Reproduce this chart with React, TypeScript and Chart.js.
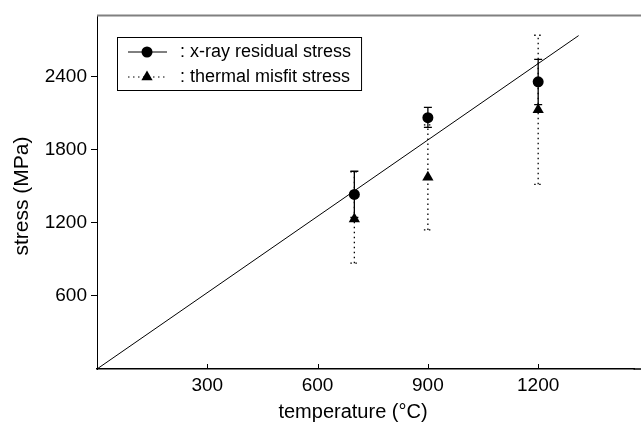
import React, { useEffect, useRef } from "react";
import { Chart, registerables } from "chart.js";
Chart.register(...registerables);

const temperatures = [700, 900, 1200];
const xrayStress = [1435, 2065, 2360];
const xrayLow = [1245, 1985, 2172];
const xrayHigh = [1625, 2150, 2545];
const misfitStress = [1233, 1576, 2131];
const misfitLow = [870, 1143, 1518];
const misfitHigh = [1620, 2006, 2743];
const fitX = [0, 1310];
const fitY = [0, 2740];
const xTickValues = [300, 600, 900, 1200];
const yTickValues = [600, 1200, 1800, 2400];
const xLabel = "temperature (\u00B0C)";
const yLabel = "stress (MPa)";
const legendLabels = [": x-ray residual stress", ": thermal misfit stress"];

const FONT = '"Liberation Sans", Arial, Helvetica, sans-serif';

const decor = {
  id: "decor",
  beforeDatasetsDraw(chart: any) {
    const { ctx, scales } = chart;
    const x = scales.x, y = scales.y;
    ctx.save();
    ctx.strokeStyle = "#000";
    const bar = (xv: number, lo: number, hi: number, dash: number[]) => {
      const px = x.getPixelForValue(xv);
      const pl = y.getPixelForValue(lo);
      const ph = y.getPixelForValue(hi);
      ctx.setLineDash(dash);
      ctx.lineWidth = 1.3;
      ctx.beginPath();
      ctx.moveTo(px, pl);
      ctx.lineTo(px, ph);
      ctx.moveTo(px - 4, pl);
      ctx.lineTo(px + 4, pl);
      ctx.moveTo(px - 4, ph);
      ctx.lineTo(px + 4, ph);
      ctx.stroke();
    };
    temperatures.forEach((t, i) => bar(t, misfitLow[i], misfitHigh[i], [1.5, 3.5]));
    temperatures.forEach((t, i) => bar(t, xrayLow[i], xrayHigh[i], []));
    ctx.restore();
  },
  afterDraw(chart: any) {
    const { ctx, chartArea: a, scales } = chart;
    const x = scales.x;
    ctx.save();
    // top frame line
    ctx.strokeStyle = "#808080";
    ctx.lineWidth = 2;
    ctx.beginPath();
    ctx.moveTo(a.left, a.top);
    ctx.lineTo(chart.width, a.top);
    ctx.stroke();
    // bottom axis continues to the edge
    ctx.strokeStyle = "#000";
    ctx.lineWidth = 1.5;
    ctx.beginPath();
    ctx.moveTo(a.right - 1, a.bottom);
    ctx.lineTo(chart.width, a.bottom);
    ctx.stroke();
    // inward x ticks
    ctx.lineWidth = 1;
    ctx.beginPath();
    xTickValues.forEach((v) => {
      const px = Math.round(x.getPixelForValue(v)) + 0.5;
      ctx.moveTo(px, a.bottom);
      ctx.lineTo(px, a.bottom - 5);
    });
    ctx.stroke();
    // axis titles
    ctx.fillStyle = "#000";
    ctx.font = `20px ${FONT}`;
    ctx.textAlign = "center";
    ctx.textBaseline = "middle";
    ctx.fillText(xLabel, 353, 412);
    ctx.save();
    ctx.translate(22, 196);
    ctx.rotate(-Math.PI / 2);
    ctx.font = `21px ${FONT}`;
    ctx.fillText(yLabel, 0, 0);
    ctx.restore();
    // legend
    ctx.font = `18px ${FONT}`;
    ctx.textAlign = "left";
    const textX = 180;
    const w = Math.max(...legendLabels.map((l) => ctx.measureText(l).width));
    const bx = 117, by = 37, bh = 53;
    ctx.lineWidth = 1;
    ctx.strokeRect(bx + 0.5, by + 0.5, textX + w + 10 - bx, bh);
    const rows = [52, 77];
    ctx.beginPath();
    ctx.moveTo(128, rows[0]);
    ctx.lineTo(167, rows[0]);
    ctx.stroke();
    ctx.beginPath();
    ctx.arc(147, rows[0], 5.5, 0, Math.PI * 2);
    ctx.fill();
    ctx.setLineDash([1.5, 3.5]);
    ctx.beginPath();
    ctx.moveTo(128, rows[1]);
    ctx.lineTo(167, rows[1]);
    ctx.stroke();
    ctx.setLineDash([]);
    const r = 6.5;
    ctx.beginPath();
    ctx.moveTo(147, rows[1] - r);
    ctx.lineTo(147 + r * 0.866, rows[1] + r * 0.5);
    ctx.lineTo(147 - r * 0.866, rows[1] + r * 0.5);
    ctx.closePath();
    ctx.fill();
    ctx.textBaseline = "middle";
    ctx.fillText(legendLabels[0], textX, rows[0]);
    ctx.fillText(legendLabels[1], textX, rows[1]);
    ctx.restore();
  },
};

export default function App() {
  const ref = useRef<HTMLCanvasElement>(null);
  useEffect(() => {
    if (!ref.current) return;
    const chart = new Chart(ref.current, {
      type: "scatter",
      data: {
        datasets: [
          {
            type: "line",
            data: fitX.map((v, i) => ({ x: v, y: fitY[i] })),
            borderColor: "#000",
            borderWidth: 1,
            pointRadius: 0,
            fill: false,
          } as any,
          {
            data: temperatures.map((t, i) => ({ x: t, y: xrayStress[i] })),
            pointStyle: "circle",
            pointRadius: 5.5,
            backgroundColor: "#000",
            borderColor: "#000",
            borderWidth: 0,
          },
          {
            data: temperatures.map((t, i) => ({ x: t, y: misfitStress[i] })),
            pointStyle: "triangle",
            pointRadius: 6.5,
            backgroundColor: "#000",
            borderColor: "#000",
            borderWidth: 0,
          },
        ],
      },
      options: {
        animation: false,
        responsive: false,
        layout: { padding: { top: 13, right: 0, left: 0, bottom: 0 } },
        plugins: { legend: { display: false }, tooltip: { enabled: false } },
        scales: {
          x: {
            type: "linear",
            min: 0,
            max: 1462,
            afterBuildTicks: (s: any) => {
              s.ticks = xTickValues.map((v) => ({ value: v }));
            },
            afterFit: (s: any) => {
              s.height = 60;
            },
            grid: { display: false, drawTicks: false },
            border: { display: true, color: "#000", width: 1.5 },
            ticks: {
              color: "#000",
              font: { family: FONT, size: 19 },
              padding: 5,
              autoSkip: false,
              maxRotation: 0,
              callback: (v: any) => String(v),
            },
          },
          y: {
            type: "linear",
            min: 0,
            max: 2906,
            afterBuildTicks: (s: any) => {
              s.ticks = yTickValues.map((v) => ({ value: v }));
            },
            afterFit: (s: any) => {
              s.width = 97;
            },
            grid: {
              display: true,
              drawOnChartArea: false,
              drawTicks: true,
              tickLength: 6,
              color: "#000",
            },
            border: { display: true, color: "#000", width: 1 },
            ticks: {
              color: "#000",
              font: { family: FONT, size: 19 },
              padding: 4,
              autoSkip: false,
              callback: (v: any) => String(v),
            },
          },
        },
      } as any,
      plugins: [decor],
    });
    return () => chart.destroy();
  }, []);
  return (
    <div style={{ position: "absolute", left: 0, top: 0, width: 641, height: 429 }}>
      <canvas ref={ref} width={641} height={429} style={{ display: "block" }} />
    </div>
  );
}
